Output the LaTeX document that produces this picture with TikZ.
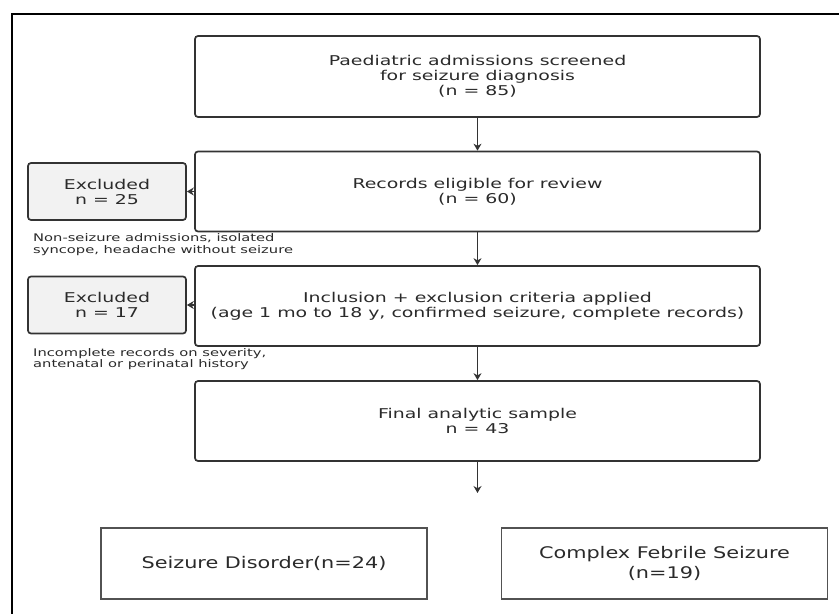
\documentclass[tikz,border=0pt]{standalone}
\usepackage{fontspec}
\setmainfont{DejaVu Sans}
\newfontfamily\boxfont{DejaVu Sans}[FakeStretch=1.4]
\newfontfamily\leaffont{DejaVu Sans}[FakeStretch=1.3]
\usepackage{tikz}
\usetikzlibrary{arrows.meta}
\definecolor{edgegray}{HTML}{333333}
\definecolor{inkgray}{HTML}{2A2A2A}
\definecolor{exclfill}{HTML}{F2F2F2}

\begin{document}
\begin{tikzpicture}[x=1pt,y=-1pt,
    flowbox/.style={draw=edgegray, line width=1.7pt, rounded corners=3pt,
        minimum width=565pt, minimum height=80pt, align=center, inner sep=2pt,
        text=inkgray, font=\boxfont\fontsize{13.5}{15}\selectfont},
    exclbox/.style={flowbox, fill=exclfill, minimum width=158pt, minimum height=57pt},
    groupbox/.style={draw=edgegray!85, line width=1.5pt, minimum width=326pt,
        minimum height=71pt, align=center, text=inkgray,
        font=\leaffont\fontsize{16}{20}\selectfont},
    note/.style={anchor=west, align=left, inner sep=0pt, text=inkgray,
        font=\boxfont\fontsize{10.5}{11.5}\selectfont},
    arr/.style={-{Stealth[length=7pt,width=8pt]}, draw=edgegray, line width=1.9pt}]
    \useasboundingbox (0,0) rectangle (839,614);

    % Frame
    \draw[line width=2.2pt] (839,14) -- (12,14) -- (12,614);

    % Main boxes
    \node[flowbox, minimum height=81pt] (screened) at (477.5,76.5) {Paediatric admissions screened\\for seizure diagnosis\\(n = 85)};
    \node[flowbox] (eligible) at (477.5,191.5) {Records eligible for review\\(n = 60)};
    \node[flowbox] (criteria) at (477.5,306) {Inclusion + exclusion criteria applied\\(age 1 mo to 18 y, confirmed seizure, complete records)};
    \node[flowbox] (final) at (477.5,421) {Final analytic sample\\n = 43};

    % Exclusions
    \node[exclbox] (excla) at (107,191.5) {Excluded\\n = 25};
    \node[exclbox] (exclb) at (107,305) {Excluded\\n = 17};
    \node[note] (notea) at (33,244.5) {Non-seizure admissions, isolated\\syncope, headache without seizure};
    \node[note] (noteb) at (33,359) {Incomplete records on severity,\\antenatal or perinatal history};

    % Groups
    \node[groupbox] (disorder) at (264,563.5) {Seizure Disorder(n=24)};
    \node[groupbox] (febrile) at (664.5,563.5) {Complex Febrile Seizure\\(n=19)};

    % Arrows
    \coordinate (split) at (477.5,493);
    \draw[arr] (screened) -- (eligible);
    \draw[arr] (eligible) -- (criteria);
    \draw[arr] (criteria) -- (final);
    \draw[arr] (final) -- (split);
    \draw[arr] (eligible.west) -- (excla.east);
    \draw[arr] (criteria.west |- exclb.east) -- (exclb.east);
\end{tikzpicture}
\end{document}
